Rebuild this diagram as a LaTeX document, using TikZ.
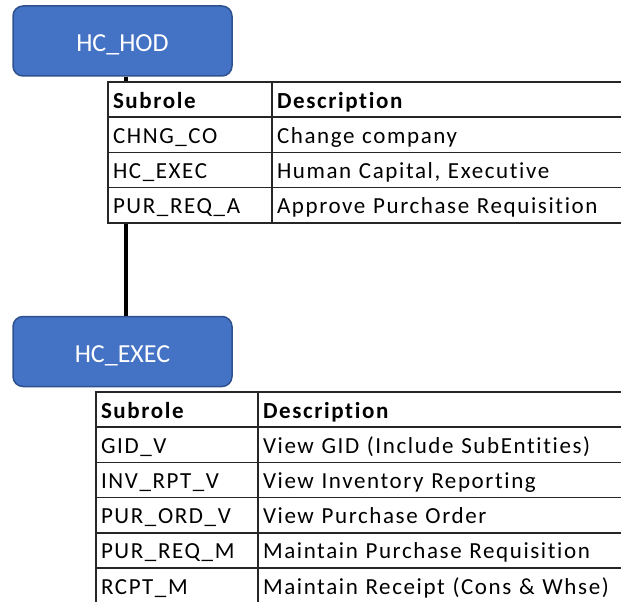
\documentclass[tikz,border=0pt]{standalone}
\usepackage{fontspec}
\setmainfont{Carlito}
\newfontfamily\cellfont{Carlito}[LetterSpace=7,Ligatures=NoCommon]
\usetikzlibrary{
    positioning % for placing the table cells next to each other
}
\definecolor{roleblue}{HTML}{4472C4}
\definecolor{roleedge}{HTML}{2F528F}

\begin{document}
\begin{tikzpicture}[
    x=1pt,y=-1pt,node distance=0pt,
    role/.style    = {rectangle,rounded corners=10pt,minimum width=219pt,minimum height=70pt,
                      fill=roleblue,draw=roleedge,line width=1.5pt,text=white,
                      text height=22pt,text depth=0pt,font=\fontsize{26}{30}\selectfont},
    cell/.style    = {rectangle,draw=black!85,line width=1.5pt,fill=white,minimum height=35.2pt,
                      outer sep=0pt,text height=17pt,text depth=0pt,inner ysep=0pt,inner xsep=5pt,
                      align=left,font=\cellfont\fontsize{23}{26}\selectfont},
    head/.style    = {cell,font=\cellfont\bfseries\fontsize{23}{26}\selectfont},
    subcol/.style  = {text width=154pt},
    desccol/.style = {text width=390pt}
]

\useasboundingbox (0,0) rectangle (621,602);
\clip (0,0) rectangle (621,602);

% The two roles and the line between them

    \node [role] (hod)  at (122.5,41)    {HC\_HOD};
    \node [role] (exec) at (122.5,351.5) {HC\_EXEC};

    \draw [line width=4pt] ([xshift=3pt]hod.south) -- ([xshift=3pt]exec.north);

% Subroles of HC_HOD (top)

    \node [head,subcol,anchor=north west] (hs0) at (108,82) {Subrole};
    \node [head,desccol] (hd0) [right=of hs0] {Description};
    \node [cell,subcol]  (hs1) [below=of hs0] {CHNG\_CO};
    \node [cell,desccol] (hd1) [right=of hs1] {Change company};
    \node [cell,subcol]  (hs2) [below=of hs1] {HC\_EXEC};
    \node [cell,desccol] (hd2) [right=of hs2] {Human Capital, Executive};
    \node [cell,subcol]  (hs3) [below=of hs2] {PUR\_REQ\_A};
    \node [cell,desccol] (hd3) [right=of hs3] {Approve Purchase Requisition};

% Subroles of HC_EXEC (bottom)

\begin{scope}[subcol/.style={text width=152pt}]

    \node [head,subcol,anchor=north west] (es0) at (96,392) {Subrole};
    \node [head,desccol] (ed0) [right=of es0] {Description};
    \node [cell,subcol]  (es1) [below=of es0] {GID\_V};
    \node [cell,desccol] (ed1) [right=of es1] {View GID (Include SubEntities)};
    \node [cell,subcol]  (es2) [below=of es1] {INV\_RPT\_V};
    \node [cell,desccol] (ed2) [right=of es2] {View Inventory Reporting};
    \node [cell,subcol]  (es3) [below=of es2] {PUR\_ORD\_V};
    \node [cell,desccol] (ed3) [right=of es3] {View Purchase Order};
    \node [cell,subcol]  (es4) [below=of es3] {PUR\_REQ\_M};
    \node [cell,desccol] (ed4) [right=of es4] {Maintain Purchase Requisition};
    \node [cell,subcol]  (es5) [below=of es4] {RCPT\_M};
    \node [cell,desccol] (ed5) [right=of es5] {Maintain Receipt (Cons \& Whse)};

\end{scope}

\end{tikzpicture}
\end{document}
